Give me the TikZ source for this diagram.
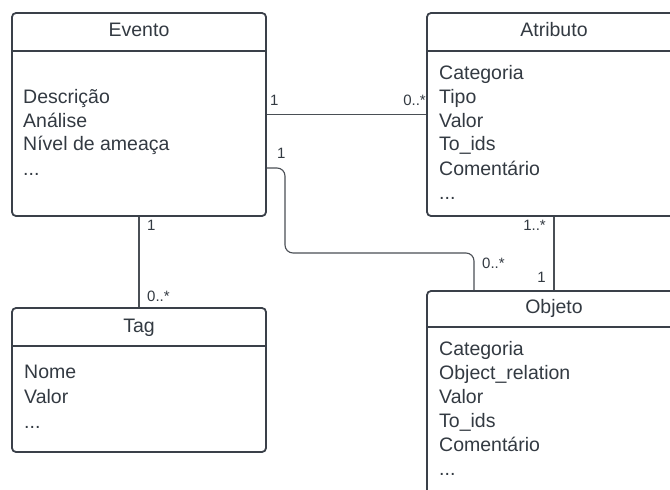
\documentclass[tikz,border=0pt]{standalone}
\usepackage{fontspec}
\setmainfont{Liberation Sans}
\definecolor{ink}{HTML}{333A42}
\definecolor{edge}{HTML}{3A4049}
\definecolor{wire}{HTML}{4A4F55}
\tikzset{
  umlbox/.style={draw=edge, line width=1.8pt, rounded corners=4pt, minimum width=254pt, inner sep=0pt, fill=white},
  divider/.style={draw=edge, line width=1.8pt},
  boxtitle/.style={font=\fontsize{19.5}{23}\selectfont, text=ink, anchor=base, inner sep=0pt},
  field/.style={font=\fontsize{19.5}{23}\selectfont, text=ink, anchor=base west, inner sep=0pt},
  mult/.style={font=\fontsize{15}{18}\selectfont, text=ink, inner sep=0pt},
  conn/.style={draw=wire, line width=1.1pt},
}
\begin{document}
\begin{tikzpicture}[x=1pt,y=-1pt]
\clip (0,0) rectangle (670,490);
\fill[white] (0,0) rectangle (670,490);

% class boxes
\node[umlbox, minimum height=203pt] (evento)   at (139,114.5) {};
\node[umlbox, minimum height=203pt] (atributo) at (554,114.5) {};
\node[umlbox, minimum height=230pt] (objeto)   at (554,406) {};
\node[umlbox, minimum height=144pt] (tag)      at (139,380) {};

% header separators
\draw[divider] ([yshift=-39pt]evento.north west) -- ([yshift=-39pt]evento.north east);
\draw[divider] ([yshift=-39pt]atributo.north west) -- ([yshift=-39pt]atributo.north east);
\draw[divider] ([yshift=-37pt]objeto.north west) -- ([yshift=-37pt]objeto.north east);
\draw[divider] ([yshift=-39pt]tag.north west) -- ([yshift=-39pt]tag.north east);

% titles
\node[boxtitle] (evento-t)   at (139,36)  {Evento};
\node[boxtitle] (atributo-t) at (554,36)  {Atributo};
\node[boxtitle] (objeto-t)   at (554,313) {Objeto};
\node[boxtitle] (tag-t)      at (139,332) {Tag};

% Evento fields
\node[field] (ev1) at (23,103) {Descrição};
\node[field] (ev2) at (23,127) {Análise};
\node[field] (ev3) at (23,150) {Nível de ameaça};
\node[field] (ev4) at (23,175) {...};

% Atributo fields
\node[field] (at1) at (439,79)  {Categoria};
\node[field] (at2) at (439,103) {Tipo};
\node[field] (at3) at (439,127) {Valor};
\node[field] (at4) at (439,150) {To\_ids};
\node[field] (at5) at (439,175) {Comentário};
\node[field] (at6) at (439,199) {...};

% Objeto fields
\node[field] (ob1) at (439,355) {Categoria};
\node[field] (ob2) at (439,379) {Object\_relation};
\node[field] (ob3) at (439,403) {Valor};
\node[field] (ob4) at (439,427) {To\_ids};
\node[field] (ob5) at (439,451) {Comentário};
\node[field] (ob6) at (439,475) {...};

% Tag fields
\node[field] (tg1) at (24,378) {Nome};
\node[field] (tg2) at (24,403) {Valor};
\node[field] (tg3) at (24,428) {...};

% associations
\draw[conn] (evento.east) -- (atributo.west);
\draw[conn, rounded corners=8pt] ([yshift=-53.5pt]evento.east) -| (285,253) -| ([xshift=-80pt]objeto.north);
\draw[conn] (evento.south) -- (tag.north);
\draw[conn] (atributo.south) -- (objeto.north);

% multiplicities
\node[mult, anchor=base west] (m1) at (270,105) {1};
\node[mult, anchor=base east] (m2) at (426,105) {0..*};
\node[mult, anchor=base west] (m3) at (277,158) {1};
\node[mult, anchor=base west] (m4) at (482,268) {0..*};
\node[mult, anchor=base east] (m5) at (546,230) {1..*};
\node[mult, anchor=base east] (m6) at (546,282) {1};
\node[mult, anchor=base west] (m7) at (147,230) {1};
\node[mult, anchor=base west] (m8) at (147,301) {0..*};
\end{tikzpicture}
\end{document}
